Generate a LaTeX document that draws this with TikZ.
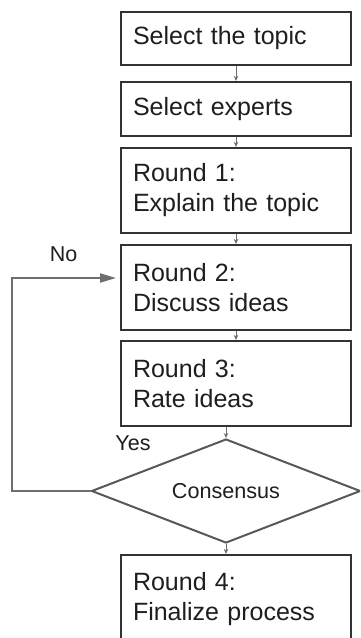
\documentclass[tikz,border=0pt]{standalone}
\usepackage{fontspec}
\setmainfont{Liberation Sans}
\usetikzlibrary{shapes.geometric,arrows.meta}
\definecolor{boxline}{HTML}{333333}
\definecolor{conn}{HTML}{6E6E6E}
\definecolor{txt}{HTML}{1E1E1E}
\begin{document}
\begin{tikzpicture}[x=1pt,y=-1pt,
  stepbox/.style={draw=boxline,line width=2.2pt,rectangle,minimum width=230pt,
    inner xsep=12pt,inner ysep=0pt,text width=206pt,align=left,text=txt,
    font=\fontsize{25}{30}\selectfont},
  decbox/.style={draw=conn!80!black,line width=2pt,shape=diamond,inner sep=0pt,
    minimum width=269pt,minimum height=104pt,aspect=2.59,text=txt,
    font=\fontsize{21.6}{26}\selectfont},
  thin/.style={draw=conn,line width=0.9pt,-{Stealth[length=5pt,width=4.5pt]}},
  loop/.style={draw=conn,line width=2pt,-{Triangle[length=16pt,width=9pt]}},
  lbl/.style={text=txt,font=\fontsize{21.5}{26}\selectfont,inner sep=0pt}]
\useasboundingbox (0,0) rectangle (360,638);
\clip (0,0) rectangle (360,638);
\fill[white] (0,0) rectangle (360,638);
\node[stepbox,minimum height=53pt] (b1) at (236,38.5) {Select the topic};
\node[stepbox,minimum height=54pt] (b2) at (236,109) {Select experts};
\node[stepbox,minimum height=85pt] (b3) at (236,190.5) {Round 1:\\Explain the topic};
\node[stepbox,minimum height=85pt] (b4) at (236,287.5) {Round 2:\\Discuss ideas};
\node[stepbox,minimum height=85pt] (b5) at (236,383.5) {Round 3:\\Rate ideas};
\node[decbox] (cons) at (226,491) {Consensus};
\node[stepbox,minimum height=89pt] (b6) at (236,599.5) {Round 4:\\Finalize process};
\draw[thin] (b1.south) -- (b2.north);
\draw[thin] (b2.south) -- (b3.north);
\draw[thin] (b3.south) -- (b4.north);
\draw[thin] (b4.south) -- (b5.north);
\draw[thin] (b5.south -| cons.north) -- (cons.north);
\draw[thin] (cons.south) -- (cons.south |- b6.north);
\coordinate (lc) at (12,491);
\coordinate (la) at (116,278);
\draw[loop] (cons.west) -- (lc) |- (la);
\node[lbl] (no) at (63.5,254) {No};
\node[lbl] (yes) at (133,443) {Yes};
\end{tikzpicture}
\end{document}
